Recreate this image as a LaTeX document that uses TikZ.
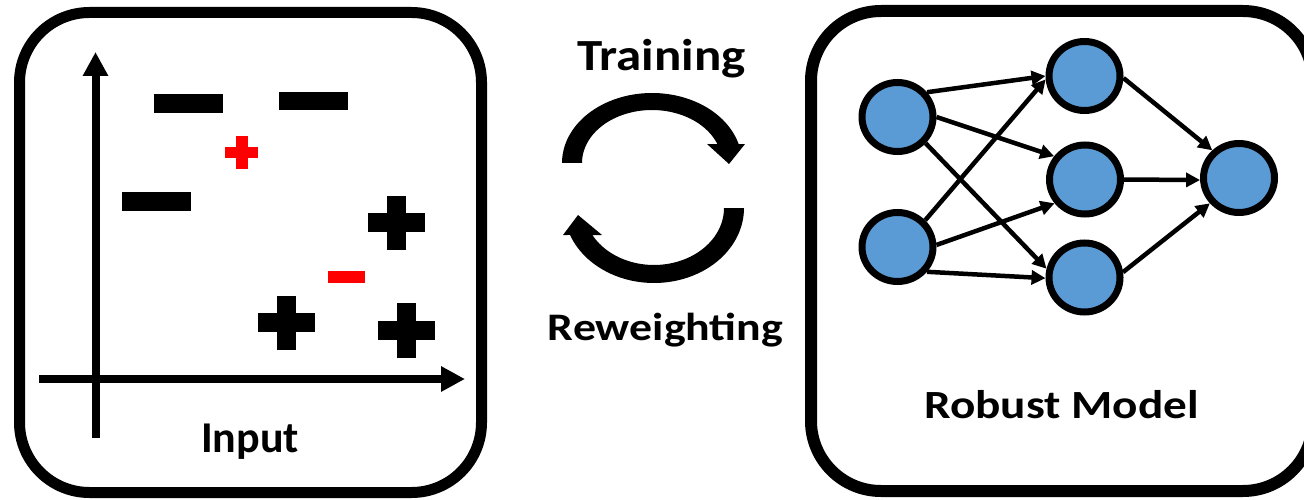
\documentclass[tikz,border=0pt]{standalone}
\usepackage{fontspec}
\setmainfont{Carlito}
\usetikzlibrary{arrows.meta,shapes.geometric}
\definecolor{neuronblue}{HTML}{5B9BD5}
\definecolor{markred}{HTML}{FF0000}
\tikzset{
  panel/.style={draw=black, line width=11pt, rounded corners=70pt},
  axis/.style={line width=8pt, -{Triangle[length=24pt,width=24pt]}},
  neuron/.style={ellipse, draw=black, line width=7pt, fill=neuronblue,
    minimum width=71pt, minimum height=69pt, inner sep=0pt},
  link/.style={line width=4.5pt, -{Triangle[length=14pt,width=14pt]}},
  label/.style={anchor=base, inner sep=0pt},
}
% bold text at a given size, widened horizontally
\newcommand{\widetext}[3]{\scalebox{#2}[1]{\bfseries\fontsize{#1}{#1}\selectfont #3}}
\begin{document}
\begin{tikzpicture}[x=1pt, y=-1pt]
\useasboundingbox (0,0) rectangle (1304,500);

% ---------- input panel ----------
\draw[panel] (19.5,12.5) rectangle (481.5,492.5);
\coordinate (yaxis0) at (95.5,438);
\coordinate (yaxis1) at (95.5,52);
\coordinate (xaxis0) at (39,379);
\coordinate (xaxis1) at (465,379);
\draw[axis] (yaxis0) -- (yaxis1);
\draw[axis] (xaxis0) -- (xaxis1);

% negative samples
\fill (154,94) rectangle (223,113);
\fill (279,92) rectangle (348,110);
\fill (122,192) rectangle (191,211);
% positive samples
\fill (368,213) rectangle (425,232); \fill (387,196) rectangle (406,250);
\fill (258,313) rectangle (315,332); \fill (277,296) rectangle (296,350);
\fill (378,321) rectangle (435,340); \fill (397,303) rectangle (416,358);
% noisy samples
\fill[markred] (225,147) rectangle (258,158); \fill[markred] (236,136) rectangle (248,169);
\fill[markred] (328,271) rectangle (365,283);

\node[label] (inputlabel) at (250,452.7) {\widetext{44}{1}{Input}};

% ---------- training / reweighting loop ----------
\fill plot[domain=180:344.3, samples=60, variable=\t] ({652+90*cos(\t)},{163+70*sin(\t)})
  -- (745,144) -- (729,164) -- (707,144)
  -- plot[domain=339.0:180, samples=60, variable=\t] ({652+70*cos(\t)},{163+53*sin(\t)})
  -- cycle;
\fill plot[domain=0:158.9, samples=60, variable=\t] ({654+90*cos(\t)},{208+75*sin(\t)})
  -- (563,235) -- (578,215) -- (602,235)
  -- plot[domain=151.7:0, samples=60, variable=\t] ({654+70*cos(\t)},{208+57*sin(\t)})
  -- cycle;
\node[label] (training) at (661.5,70.7) {\widetext{44.5}{1.145}{Training}};
\node[label] (reweighting) at (665.5,340.5) {\widetext{39}{1.175}{Reweighting}};

% ---------- model panel ----------
\draw[panel, line width=12pt] (811,11) rectangle (1313,491);
\node[neuron] (in1) at (897.5,117) {};
\node[neuron] (in2) at (897.5,247) {};
\node[neuron] (h1) at (1084.5,76) {};
\node[neuron] (h2) at (1085,179.5) {};
\node[neuron] (h3) at (1084.5,277.5) {};
\node[neuron] (out) at (1239,178) {};

\draw[link] (in1.40) -- (h1.180);
\draw[link] (in1.0) -- (h2.143);
\draw[link] (in1.-43) -- (h3.167);
\draw[link] (in2.44) -- (h1.185);
\draw[link] (in2.3) -- (h2.218);
\draw[link] (in2.-40) -- (h3.181);
\draw[link] (h1.-3) -- (out.134);
\draw[link] (h2.0) -- (out.183);
\draw[link] (h3.8) -- (out.221);

\node[label] (modellabel) at (1061.5,418) {\widetext{40}{1.18}{Robust Model}};
\end{tikzpicture}
\end{document}
